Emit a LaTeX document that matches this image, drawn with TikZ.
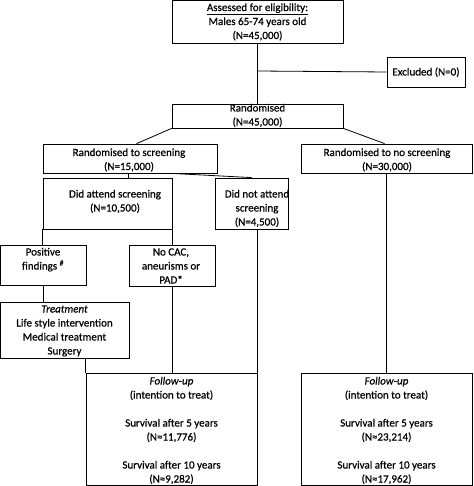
\documentclass[tikz,border=0pt]{standalone}
\usepackage{fontspec}
\setmainfont{Carlito}[BoldFont=Carlito, BoldItalicFont=Carlito Italic, BoldFeatures={FakeBold=0.6}, BoldItalicFeatures={FakeBold=0.6}]
\usetikzlibrary{calc}
\begin{document}
\begin{tikzpicture}[x=1pt,y=-1pt,
  box/.style={draw=black, line width=0.8pt, inner sep=0pt, rectangle},
  txt/.style={inner sep=0pt, align=center, anchor=base, font=\fontsize{11}{14}\selectfont\bfseries},
  conn/.style={draw=black, line width=0.8pt}]
\useasboundingbox (0,0) rectangle (473,486);
% boxes
\node[box, minimum width=171, minimum height=42.5] (A) at (257.5,21.75) {};
\node[box, minimum width=78, minimum height=30] (X) at (426,72) {};
\node[box, minimum width=171, minimum height=24] (R) at (257.5,116) {};
\node[box, minimum width=174, minimum height=29] (RS) at (130,158.5) {};
\node[box, minimum width=171, minimum height=29] (RN) at (386.5,158.5) {};
\node[box, minimum width=129, minimum height=51] (DA) at (107.5,203.5) {};
\node[box, minimum width=73, minimum height=51] (DN) at (251.5,203.5) {};
\node[box, minimum width=85.5, minimum height=40] (PF) at (43.25,265) {};
\node[box, minimum width=86, minimum height=41] (NC) at (172,265.5) {};
\node[box, minimum width=128.5, minimum height=56] (T) at (64.75,330) {};
\node[box, minimum width=171, minimum height=112.5] (FL) at (171.5,429.25) {};
\node[box, minimum width=171, minimum height=112.5] (FR) at (386.5,429.25) {};
% texts (base anchor = baseline of last line)
\node[txt] (At) at (257.5,39) {\underline{Assessed for eligibility:}\\Males 65-74 years old\\(N=45,000)};
\node[txt] (Xt) at (426,75.5) {Excluded (N=0)};
\node[txt] (Rt) at (257.5,125.5) {Randomised\\(N=45,000)};
\node[txt] (RSt) at (129,170) {Randomised to screening\\(N=15,000)};
\node[txt] (RNt) at (387,170) {Randomised to no screening\\(N=30,000)};
\node[txt] (DAt) at (115,211.5) {Did attend screening\\(N=10,500)};
\node[txt] (DNt) at (257,225.5) {Did not attend\\screening\\(N=4,500)};
\node[txt] (PFt) at (43,269.5) {Positive\\findings~\textsuperscript{\#}};
\node[txt] (NCt) at (171,283.5) {No CAC,\\aneurisms or\\PAD*};
\node[txt] (Tt) at (64.5,354.5) {\textit{Treatment}\\Life style intervention\\Medical treatment\\Surgery};
\node[txt] (FLt) at (171.5,482.5) {\textit{Follow-up}\\(intention to treat)\\[14pt]Survival after 5 years\\(N≈11,776)\\[14pt]Survival after 10 years\\(N≈9,282)};
\node[txt] (FRt) at (386.5,482.5) {\textit{Follow-up}\\(intention to treat)\\[14pt]Survival after 5 years\\(N≈23,214)\\[14pt]Survival after 10 years\\(N≈17,962)};
% connectors
\coordinate (J) at (257.5,71);
\draw[conn] (A.south) -- (R.north);
\draw[conn] (J) -- (X.west);
\draw[conn] (R.south west) -- ($(RS.north west)+(94,0)$);
\draw[conn] (R.south east) -- ($(RN.north west)+(84,0)$);
\draw[conn] ($(RS.south west)+(86,0)$) -- ($(DA.north west)+(86,0)$);
\draw[conn] ($(RS.south west)+(129,0)$) -- ($(DN.north west)+(37,0)$);
\draw[conn] (DA.south west) -- (DA.south west |- PF.north);
\draw[conn] (DA.south east) -- (DA.south east |- NC.north);
\draw[conn] (PF.south) -- (PF.south |- T.north);
\draw[conn] (FL.north west |- T.south) -- (FL.north west);
\draw[conn] (NC.south) -- (NC.south |- FL.north);
\draw[conn] (FL.north east |- DN.south) -- (FL.north east);
\draw[conn] (RN.south) -- (RN.south |- FR.north);
\end{tikzpicture}
\end{document}
